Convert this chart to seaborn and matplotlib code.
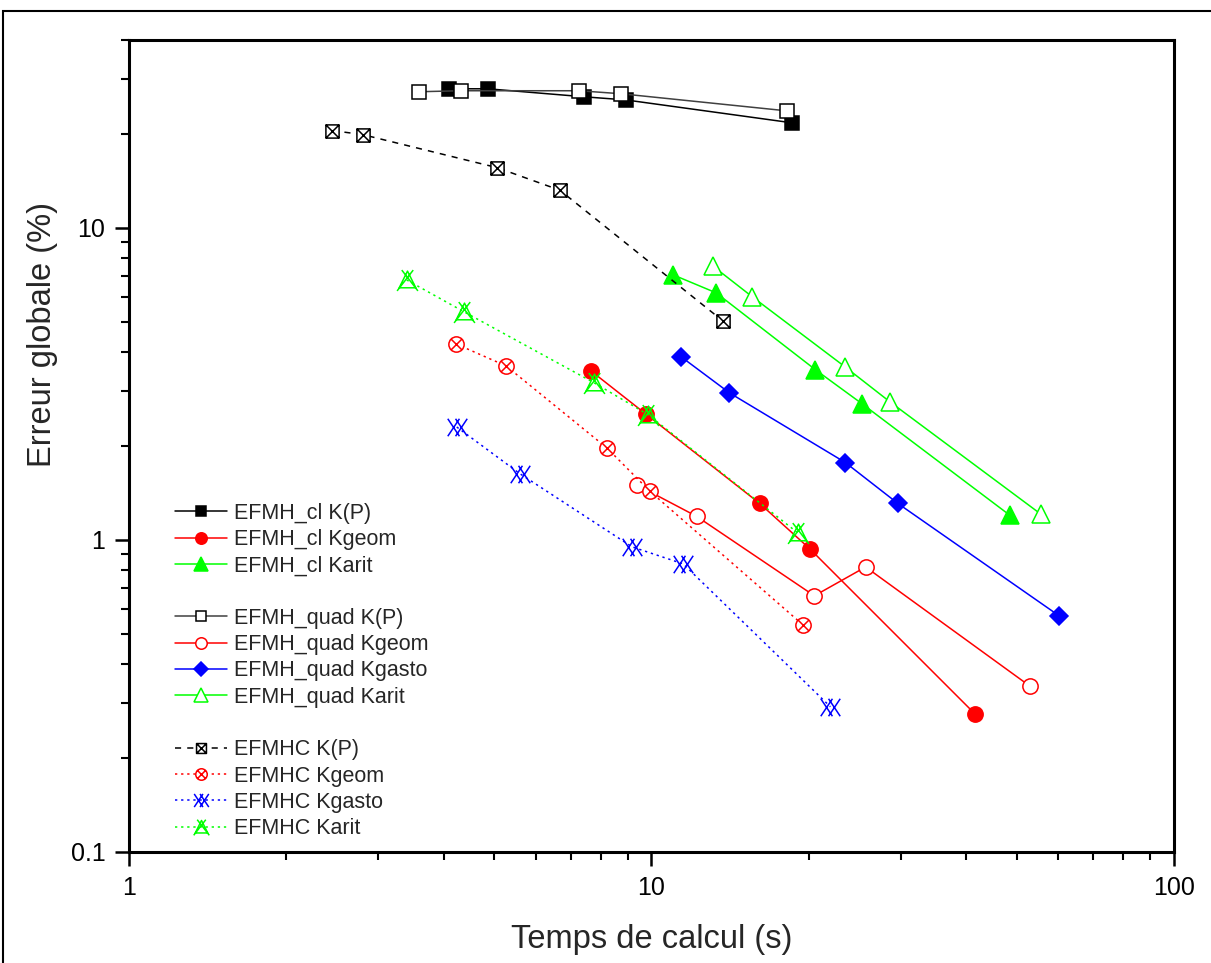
import matplotlib
matplotlib.use('Agg')
import matplotlib.pyplot as plt
import matplotlib.path as mpath
import matplotlib.ticker as mticker
from matplotlib.lines import Line2D
from matplotlib.patches import Rectangle
import seaborn as sns

# Values (time in s, global error in %)

cl_kp_t = [4.10, 4.86, 7.43, 8.93, 18.6]
cl_kp_err = [27.9, 27.9, 26.3, 25.7, 21.7]

cl_kgeom_t = [7.66, 9.76, 16.1, 20.1, 41.6]
cl_kgeom_err = [3.48, 2.53, 1.31, 0.936, 0.277]

cl_karit_t = [11.0, 13.3, 20.6, 25.3, 48.5]
cl_karit_err = [7.07, 6.19, 3.51, 2.73, 1.20]

quad_kp_t = [3.59, 4.32, 7.27, 8.74, 18.2]
quad_kp_err = [27.3, 27.5, 27.5, 26.9, 23.7]

quad_kgeom_t = [9.38, 12.2, 20.5, 25.7, 53.0]
quad_kgeom_err = [1.50, 1.19, 0.662, 0.819, 0.340]

quad_kgasto_t = [11.4, 14.1, 23.5, 29.6, 60.3]
quad_kgasto_err = [3.86, 2.96, 1.77, 1.31, 0.571]

quad_karit_t = [13.1, 15.6, 23.5, 28.6, 55.6]
quad_karit_err = [7.55, 6.01, 3.58, 2.77, 1.21]

hc_kp_t = [2.45, 2.80, 5.06, 6.68, 13.7]
hc_kp_err = [20.5, 19.9, 15.6, 13.2, 5.03]

hc_kgeom_t = [4.22, 5.27, 8.22, 9.94, 19.5]
hc_kgeom_err = [4.25, 3.61, 1.97, 1.43, 0.534]

hc_kgasto_t = [4.24, 5.60, 9.18, 11.5, 22.0]
hc_kgasto_err = [2.30, 1.63, 0.950, 0.838, 0.292]

hc_karit_t = [3.40, 4.38, 7.76, 9.85, 19.1]
hc_karit_err = [6.81, 5.38, 3.19, 2.52, 1.05]

x_ticks = [1, 10, 100]
y_ticks = [0.1, 1, 10]


def path_marker(pieces):

    # Build one marker out of several open or closed polylines.

    verts, codes = [], []
    for pts, closed in pieces:
        verts += pts
        codes += [mpath.Path.MOVETO] + [mpath.Path.LINETO] * (len(pts) - 1)
        if closed:
            verts.append(pts[0])
            codes.append(mpath.Path.CLOSEPOLY)
    return mpath.Path(verts, codes)


circ = mpath.Path.unit_circle()
box_x = path_marker([([(-1, -1), (1, -1), (1, 1), (-1, 1)], True),
                     ([(-1, -1), (1, 1)], False), ([(-1, 1), (1, -1)], False)])
circle_x = mpath.Path.make_compound_path(
    circ, path_marker([([(-0.72, -0.72), (0.72, 0.72)], False),
                       ([(-0.72, 0.72), (0.72, -0.72)], False)]))
double_x = path_marker([([(-1, -0.9), (0.2, 0.9)], False), ([(-1, 0.9), (0.2, -0.9)], False),
                        ([(-0.2, -0.9), (1, 0.9)], False), ([(-0.2, 0.9), (1, -0.9)], False)])
tri_x = path_marker([([(-0.8, -0.7), (0.8, -0.7), (0, 0.9)], True),
                     ([(-1, -1), (0.55, 1)], False), ([(1, -1), (-0.55, 1)], False)])

series = [
    ('EFMH_cl K(P)', cl_kp_t, cl_kp_err,
     dict(color='black', ls='-', marker='s', ms=9.5, mfc='black', mec='black')),
    ('EFMH_cl Kgeom', cl_kgeom_t, cl_kgeom_err,
     dict(color='#ff0000', ls='-', marker='o', ms=11, mfc='#ff0000', mec='#ff0000')),
    ('EFMH_cl Karit', cl_karit_t, cl_karit_err,
     dict(color='#00ff00', ls='-', marker='^', ms=13, mfc='#00ff00', mec='#00ff00')),
    None,
    ('EFMH_quad K(P)', quad_kp_t, quad_kp_err,
     dict(color='#404040', ls='-', marker='s', ms=9.5, mfc='white', mec='black')),
    ('EFMH_quad Kgeom', quad_kgeom_t, quad_kgeom_err,
     dict(color='#ff0000', ls='-', marker='o', ms=11, mfc='white', mec='#ff0000')),
    ('EFMH_quad Kgasto', quad_kgasto_t, quad_kgasto_err,
     dict(color='#0000ff', ls='-', marker='D', ms=9.5, mfc='#0000ff', mec='#0000ff')),
    ('EFMH_quad Karit', quad_karit_t, quad_karit_err,
     dict(color='#00ff00', ls='-', marker='^', ms=13, mfc='white', mec='#00ff00')),
    None,
    ('EFMHC K(P)', hc_kp_t, hc_kp_err,
     dict(color='black', ls=(0, (4, 4)), marker=box_x, ms=9.5, mfc='white', mec='black')),
    ('EFMHC Kgeom', hc_kgeom_t, hc_kgeom_err,
     dict(color='#ff0000', ls=(0, (1.5, 2.5)), marker=circle_x, ms=11, mfc='white', mec='#ff0000')),
    ('EFMHC Kgasto', hc_kgasto_t, hc_kgasto_err,
     dict(color='#0000ff', ls=(0, (1.5, 2.5)), marker=double_x, ms=14, mfc='none', mec='#0000ff')),
    ('EFMHC Karit', hc_karit_t, hc_karit_err,
     dict(color='#00ff00', ls=(0, (1.5, 2.5)), marker=tri_x, ms=15, mfc='none', mec='#00ff00')),
]


def main():
    sns.set_style('white')
    plt.rcParams['font.family'] = ['Liberation Sans', 'DejaVu Sans']

    fig = plt.figure(figsize=(12.11, 9.63), dpi=100)
    ax = fig.add_axes([0.1065, 0.1153, 0.8629, 0.8432])
    ax.set_xscale('log')
    ax.set_yscale('log')

    handles, labels = [], []
    for s in series:
        if s is None:
            handles.append(Line2D([], [], color='none'))
            labels.append(' ')
            continue
        name, t, err, style = s
        sns.lineplot(x=t, y=err, ax=ax, sort=False, estimator=None,
                     lw=1.1, mew=1.1, label=name, **style)
        handles.append(ax.get_lines()[-1])
        labels.append(name)

    ax.set_xlim(1, 100)
    ax.set_ylim(0.1, 40)

    ax.xaxis.set_major_locator(mticker.FixedLocator(x_ticks))
    ax.yaxis.set_major_locator(mticker.FixedLocator(y_ticks))
    ax.xaxis.set_minor_locator(mticker.LogLocator(base=10, subs=range(2, 10)))
    ax.yaxis.set_minor_locator(mticker.LogLocator(base=10, subs=range(2, 10)))
    ax.xaxis.set_major_formatter(mticker.FuncFormatter(lambda v, p: '{:g}'.format(v)))
    ax.yaxis.set_major_formatter(mticker.FuncFormatter(lambda v, p: '{:g}'.format(v)))
    ax.xaxis.set_minor_formatter(mticker.NullFormatter())
    ax.yaxis.set_minor_formatter(mticker.NullFormatter())

    ax.tick_params(which='major', direction='out', length=10, width=1.8,
                   labelsize=18, pad=7, colors='black')
    ax.tick_params(which='minor', direction='out', length=5.5, width=1.5, colors='black')
    ax.tick_params(which='both', left=True, bottom=True, top=False, right=False)

    for sp in ax.spines.values():
        sp.set_linewidth(2.2)
        sp.set_color('black')

    ax.set_xlabel('Temps de calcul (s)', fontsize=23.5)
    ax.set_ylabel('Erreur globale (%)', fontsize=23.5)
    ax.xaxis.set_label_coords(0.5, -0.089)
    ax.yaxis.set_label_coords(-0.068, 0.637)

    ax.legend(handles, labels, loc='upper left', bbox_to_anchor=(0.044, 0.43),
              frameon=False, fontsize=15.5, numpoints=1, markerscale=0.75,
              handlelength=2.4, handletextpad=0.35, labelspacing=0.245,
              borderpad=0, borderaxespad=0)

    fig.patches.append(Rectangle((3 / 1211, -0.05), 1.1, 0.05 + 1 - 11 / 963,
                                 transform=fig.transFigure, fill=False,
                                 lw=1.5, ec='black'))

    fig.savefig('out.png', dpi=100)


if __name__ == '__main__':
    main()
